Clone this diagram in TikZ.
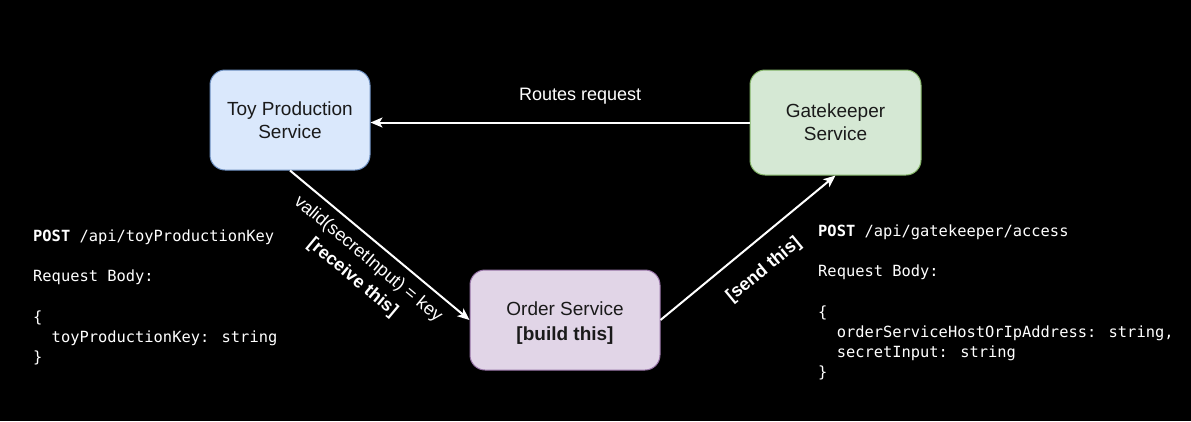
\documentclass[tikz,border=0pt]{standalone}
\usepackage{fontspec}
\setmainfont{Liberation Sans}
\newfontfamily\codefont{DejaVu Sans Mono}
\usetikzlibrary{arrows.meta}
\definecolor{toyfill}{HTML}{DAE8FC}
\definecolor{toyline}{HTML}{6C8EBF}
\definecolor{gatefill}{HTML}{D5E8D4}
\definecolor{gateline}{HTML}{82B366}
\definecolor{ordfill}{HTML}{E1D5E7}
\definecolor{ordline}{HTML}{9673A6}
\definecolor{boxtext}{HTML}{1A1A1A}
\begin{document}
\begin{tikzpicture}[x=1pt,y=-1pt,
  svc/.style={draw, rounded corners=15pt, line width=1pt, align=center, inner sep=0pt,
    text=boxtext, font=\fontsize{19}{23}\selectfont},
  conn/.style={draw=white, line width=2pt, -{Stealth[length=12pt,width=10pt,inset=3pt]}},
  lbl/.style={text=white, inner sep=0pt, font=\fontsize{18}{24}\selectfont},
  code/.style={text=white, inner sep=0pt, align=left, anchor=north west,
    font=\codefont\fontsize{15.4}{20.2}\selectfont}]
\fill[black] (0,0) rectangle (1191,421);
\useasboundingbox (0,0) rectangle (1191,421);

\node[svc, fill=toyfill, draw=toyline, minimum width=160pt, minimum height=100pt] (toy) at (290,120) {Toy Production\\Service};
\node[svc, fill=gatefill, draw=gateline, minimum width=171pt, minimum height=105pt] (gate) at (835.5,122.5) {Gatekeeper\\\rule{0pt}{17pt}Service};
\node[svc, fill=ordfill, draw=ordline, minimum width=190pt, minimum height=100pt, font=\fontsize{19}{25}\selectfont] (order) at (565,320) {\rule{0pt}{20pt}Order Service\\\textbf{[build this]}};

\draw[conn] (gate.west) -- (gate.west -| toy.east)
  node[lbl, pos=0.447, above=17.2pt] (routes) {Routes request};
\draw[conn] (toy.south) -- (order.west)
  node[lbl, midway, sloped, below=9pt, align=center] (recv) {valid(secretInput) = key\\\textbf{[receive this]}};
\draw[conn] (order.east) -- (gate.south)
  node[lbl, midway, sloped, below=18pt, xshift=-2pt] (send) {\textbf{[send this]}};

\node[code] (leftcode) at (33,229.5) {\textbf{POST} /api/toyProductionKey\\[20.2pt]
Request Body:\\[20.2pt]
\{\\
\phantom{xx}toyProductionKey: string\\
\}};
\node[code] (rightcode) at (818,224.3) {\textbf{POST} /api/gatekeeper/access\\[20.2pt]
Request Body:\\[20.2pt]
\{\\
\phantom{xx}orderServiceHostOrIpAddress: string,\\
\phantom{xx}secretInput: string\\
\}};
\end{tikzpicture}
\end{document}
